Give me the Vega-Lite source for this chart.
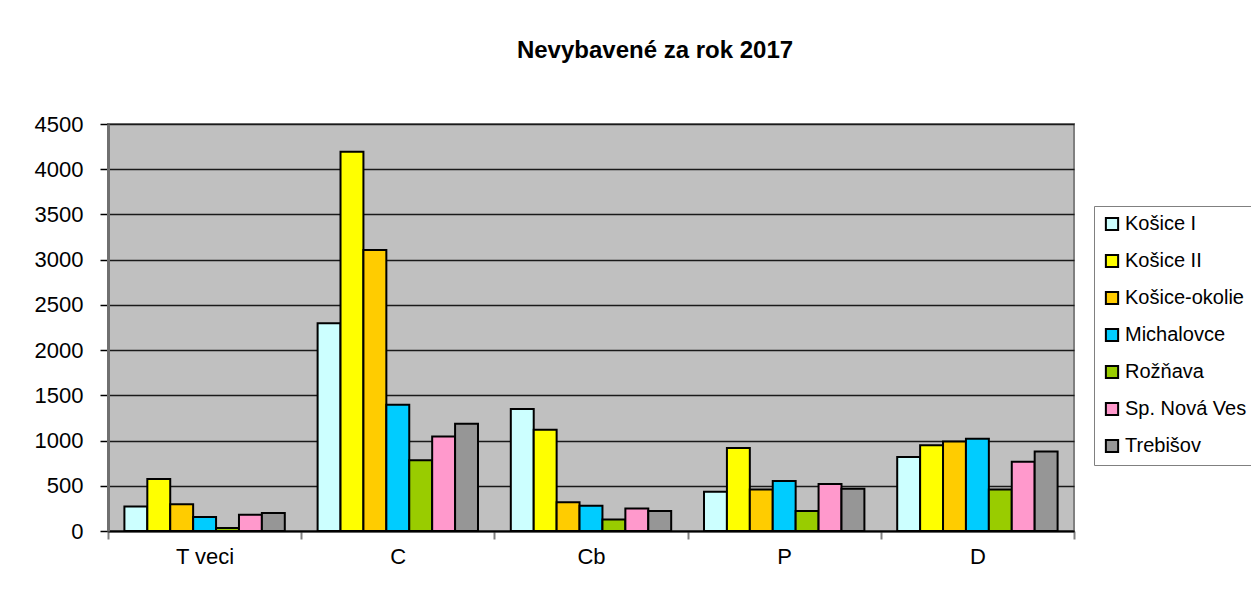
{
  "$schema": "https://vega.github.io/schema/vega-lite/v6.json",
  "autosize": {"type": "none"},
  "padding": {"left": 108, "top": 124, "right": 177, "bottom": 65},
  "width": 966,
  "height": 407,
  "background": "white",
  "title": {
    "text": "Nevybavené za rok 2017",
    "font": "Liberation Sans",
    "fontSize": 24,
    "fontWeight": "bold",
    "color": "#000000",
    "anchor": "middle",
    "dx": 64,
    "offset": 50
  },
  "data": {
    "values": [
      {"kat": "T veci", "sud": "Košice I", "v": 270},
      {"kat": "T veci", "sud": "Košice II", "v": 574},
      {"kat": "T veci", "sud": "Košice-okolie", "v": 296},
      {"kat": "T veci", "sud": "Michalovce", "v": 156},
      {"kat": "T veci", "sud": "Rožňava", "v": 33},
      {"kat": "T veci", "sud": "Sp. Nová Ves", "v": 181},
      {"kat": "T veci", "sud": "Trebišov", "v": 200},
      {"kat": "C", "sud": "Košice I", "v": 2296},
      {"kat": "C", "sud": "Košice II", "v": 4193},
      {"kat": "C", "sud": "Košice-okolie", "v": 3107},
      {"kat": "C", "sud": "Michalovce", "v": 1396},
      {"kat": "C", "sud": "Rožňava", "v": 781},
      {"kat": "C", "sud": "Sp. Nová Ves", "v": 1044},
      {"kat": "C", "sud": "Trebišov", "v": 1185},
      {"kat": "Cb", "sud": "Košice I", "v": 1348},
      {"kat": "Cb", "sud": "Košice II", "v": 1119},
      {"kat": "Cb", "sud": "Košice-okolie", "v": 319},
      {"kat": "Cb", "sud": "Michalovce", "v": 278},
      {"kat": "Cb", "sud": "Rožňava", "v": 126},
      {"kat": "Cb", "sud": "Sp. Nová Ves", "v": 248},
      {"kat": "Cb", "sud": "Trebišov", "v": 222},
      {"kat": "P", "sud": "Košice I", "v": 433},
      {"kat": "P", "sud": "Košice II", "v": 919},
      {"kat": "P", "sud": "Košice-okolie", "v": 459},
      {"kat": "P", "sud": "Michalovce", "v": 552},
      {"kat": "P", "sud": "Rožňava", "v": 222},
      {"kat": "P", "sud": "Sp. Nová Ves", "v": 519},
      {"kat": "P", "sud": "Trebišov", "v": 467},
      {"kat": "D", "sud": "Košice I", "v": 819},
      {"kat": "D", "sud": "Košice II", "v": 948},
      {"kat": "D", "sud": "Košice-okolie", "v": 989},
      {"kat": "D", "sud": "Michalovce", "v": 1019},
      {"kat": "D", "sud": "Rožňava", "v": 459},
      {"kat": "D", "sud": "Sp. Nová Ves", "v": 767},
      {"kat": "D", "sud": "Trebišov", "v": 878}
    ]
  },
  "mark": {"type": "bar", "stroke": "#000000", "strokeWidth": 2},
  "encoding": {
    "x": {
      "field": "kat",
      "type": "nominal",
      "sort": ["T veci", "C", "Cb", "P", "D"],
      "scale": {"paddingInner": 0, "paddingOuter": 0},
      "axis": {
        "title": null,
        "labelAngle": 0,
        "tickBand": "extent",
        "tickSize": 8,
        "tickColor": "#808080",
        "tickWidth": 2,
        "domainColor": "#000000",
        "domainWidth": 2,
        "labelFont": "Liberation Sans",
        "labelFontSize": 22,
        "labelColor": "#000000",
        "labelPadding": 7
      }
    },
    "xOffset": {
      "field": "sud",
      "type": "nominal",
      "sort": ["Košice I", "Košice II", "Košice-okolie", "Michalovce", "Rožňava", "Sp. Nová Ves", "Trebišov"],
      "scale": {"paddingInner": 0, "paddingOuter": 0.716}
    },
    "y": {
      "field": "v",
      "type": "quantitative",
      "scale": {"domain": [0, 4500], "nice": false},
      "axis": {
        "title": null,
        "format": "d",
        "values": [0, 500, 1000, 1500, 2000, 2500, 3000, 3500, 4000, 4500],
        "grid": true,
        "gridColor": "#1a1a1a",
        "gridWidth": 1.5,
        "tickSize": 8,
        "tickColor": "#000000",
        "tickWidth": 1.5,
        "domainColor": "#707070",
        "domainWidth": 3,
        "labelFont": "Liberation Sans",
        "labelFontSize": 22,
        "labelColor": "#000000",
        "labelPadding": 17
      }
    },
    "color": {
      "field": "sud",
      "type": "nominal",
      "sort": ["Košice I", "Košice II", "Košice-okolie", "Michalovce", "Rožňava", "Sp. Nová Ves", "Trebišov"],
      "scale": {
        "domain": ["Košice I", "Košice II", "Košice-okolie", "Michalovce", "Rožňava", "Sp. Nová Ves", "Trebišov"],
        "range": ["#CCFFFF", "#FFFF00", "#FFCC00", "#00CCFF", "#99CC00", "#FF99CC", "#969696"]
      },
      "legend": {
        "title": null,
        "orient": "none",
        "legendX": 986,
        "legendY": 82,
        "symbolType": "square",
        "symbolSize": 150,
        "symbolStrokeColor": "#000000",
        "symbolStrokeWidth": 2,
        "symbolOpacity": 1,
        "labelFont": "Liberation Sans",
        "labelFontSize": 20,
        "labelColor": "#000000",
        "labelOffset": 3,
        "rowPadding": 15,
        "padding": 8,
        "strokeColor": "#808080",
        "fillColor": "#FFFFFF"
      }
    }
  },
  "config": {
    "view": {"fill": "#C0C0C0", "stroke": "#808080", "strokeWidth": 2}
  }
}
